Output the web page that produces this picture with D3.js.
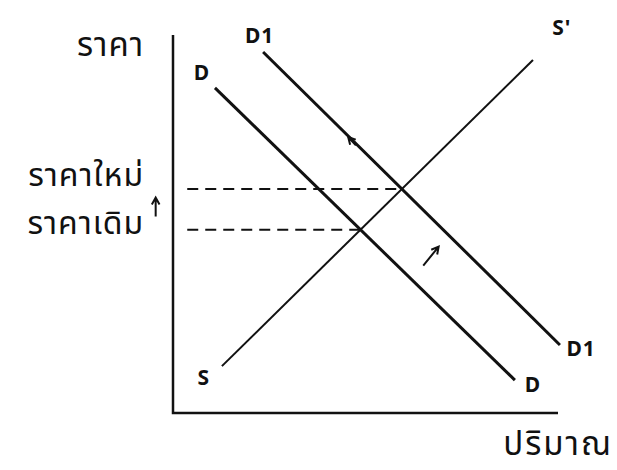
<!DOCTYPE html>
<html>
<head>
<meta charset="utf-8">
<script src="https://cdn.jsdelivr.net/npm/d3@7"></script>
<style>
  body { margin: 0; background: #fff; }
  text { font-family: "Noto Sans", "Noto Sans Thai", sans-serif; fill: #111; }
</style>
</head>
<body>
<svg id="chart" width="617" height="470"></svg>
<script>
// curves as [quantity, price] endpoints, axis units 0..10
var demand = [[1.09, 8.6], [8.88, 0.87]];
var demand1 = [[2.34, 9.55], [10.05, 1.8]];
var supply = [[1.27, 1.24], [9.35, 9.34]];
var axisLabels = ["ราคา", "ปริมาณ"];
var priceLabels = ["ราคาใหม่", "ราคาเดิม"];

var svg = d3.select("#chart");
var x = d3.scaleLinear().domain([0, 10]).range([173, 558]);
var y = d3.scaleLinear().domain([0, 10]).range([413, 35]);

function cross(a, b) {
    var m1 = (a[1][1] - a[0][1]) / (a[1][0] - a[0][0]);
    var m2 = (b[1][1] - b[0][1]) / (b[1][0] - b[0][0]);
    var q = (b[0][1] - a[0][1] + m1 * a[0][0] - m2 * b[0][0]) / (m1 - m2);
    return [q, a[0][1] + m1 * (q - a[0][0])];
}
var oldEq = cross(supply, demand);
var newEq = cross(supply, demand1);

// axes
svg.append("path")
    .attr("d", "M" + x(0) + "," + y(10) + "V" + y(0) + "H" + x(10))
    .attr("fill", "none").attr("stroke", "#111").attr("stroke-width", 2.5);

// dashed price lines
[newEq, oldEq].forEach(function(e) {
    svg.append("line")
        .attr("x1", x(0.37)).attr("y1", y(e[1]))
        .attr("x2", x(e[0])).attr("y2", y(e[1]))
        .attr("stroke", "#111").attr("stroke-width", 2)
        .attr("stroke-dasharray", "11,7");
});

var line = d3.line().x(function(d) { return x(d[0]); }).y(function(d) { return y(d[1]); });
svg.append("path").attr("d", line(supply)).attr("stroke", "#111").attr("stroke-width", 2).attr("fill", "none");
svg.append("path").attr("d", line(demand)).attr("stroke", "#111").attr("stroke-width", 3).attr("fill", "none");
svg.append("path").attr("d", line(demand1)).attr("stroke", "#111").attr("stroke-width", 3).attr("fill", "none");

// small arrows
function arrow(p0, p1) {
    var a = Math.atan2(y(p1[1]) - y(p0[1]), x(p1[0]) - x(p0[0]));
    var hx = x(p1[0]), hy = y(p1[1]), s = 8;
    svg.append("path")
        .attr("d", "M" + x(p0[0]) + "," + y(p0[1]) + "L" + hx + "," + hy +
            "M" + (hx - s * Math.cos(a - 0.5)) + "," + (hy - s * Math.sin(a - 0.5)) +
            "L" + hx + "," + hy +
            "L" + (hx - s * Math.cos(a + 0.5)) + "," + (hy - s * Math.sin(a + 0.5)))
        .attr("fill", "none").attr("stroke", "#111").attr("stroke-width", 2);
}
arrow([6.5, 3.9], [6.9, 4.4]);
arrow([4.75, 7.08], [4.55, 7.3]);
arrow([-0.45, 5.2], [-0.45, 5.7]);

// curve labels
var labels = [
    ["D", 0.75, 8.95], ["D1", 2.25, 9.95], ["S'", 10.1, 10.15],
    ["S", 0.8, 0.9], ["D", 9.35, 0.7], ["D1", 10.6, 1.65]
];
svg.selectAll(".lab").data(labels).enter().append("text")
    .attr("class", "lab")
    .attr("x", function(d) { return x(d[1]); })
    .attr("y", function(d) { return y(d[2]); })
    .attr("text-anchor", "middle").attr("dominant-baseline", "middle")
    .attr("font-size", 21).attr("font-weight", "bold").attr("letter-spacing", 1)
    .text(function(d) { return d[0]; });

svg.append("text").attr("x", x(-0.75)).attr("y", 56).attr("text-anchor", "end")
    .attr("font-size", 33).attr("letter-spacing", 1).text(axisLabels[0]);
svg.append("text").attr("x", 613).attr("y", 455).attr("text-anchor", "end")
    .attr("font-size", 33).attr("letter-spacing", 2).text(axisLabels[1]);
svg.append("text").attr("x", x(-0.75)).attr("y", y(newEq[1]) - 3).attr("text-anchor", "end")
    .attr("font-size", 32).attr("letter-spacing", 1).text(priceLabels[0]);
svg.append("text").attr("x", x(-0.75)).attr("y", y(oldEq[1]) + 4).attr("text-anchor", "end")
    .attr("font-size", 32).attr("letter-spacing", 1).text(priceLabels[1]);
</script>
</body>
</html>
